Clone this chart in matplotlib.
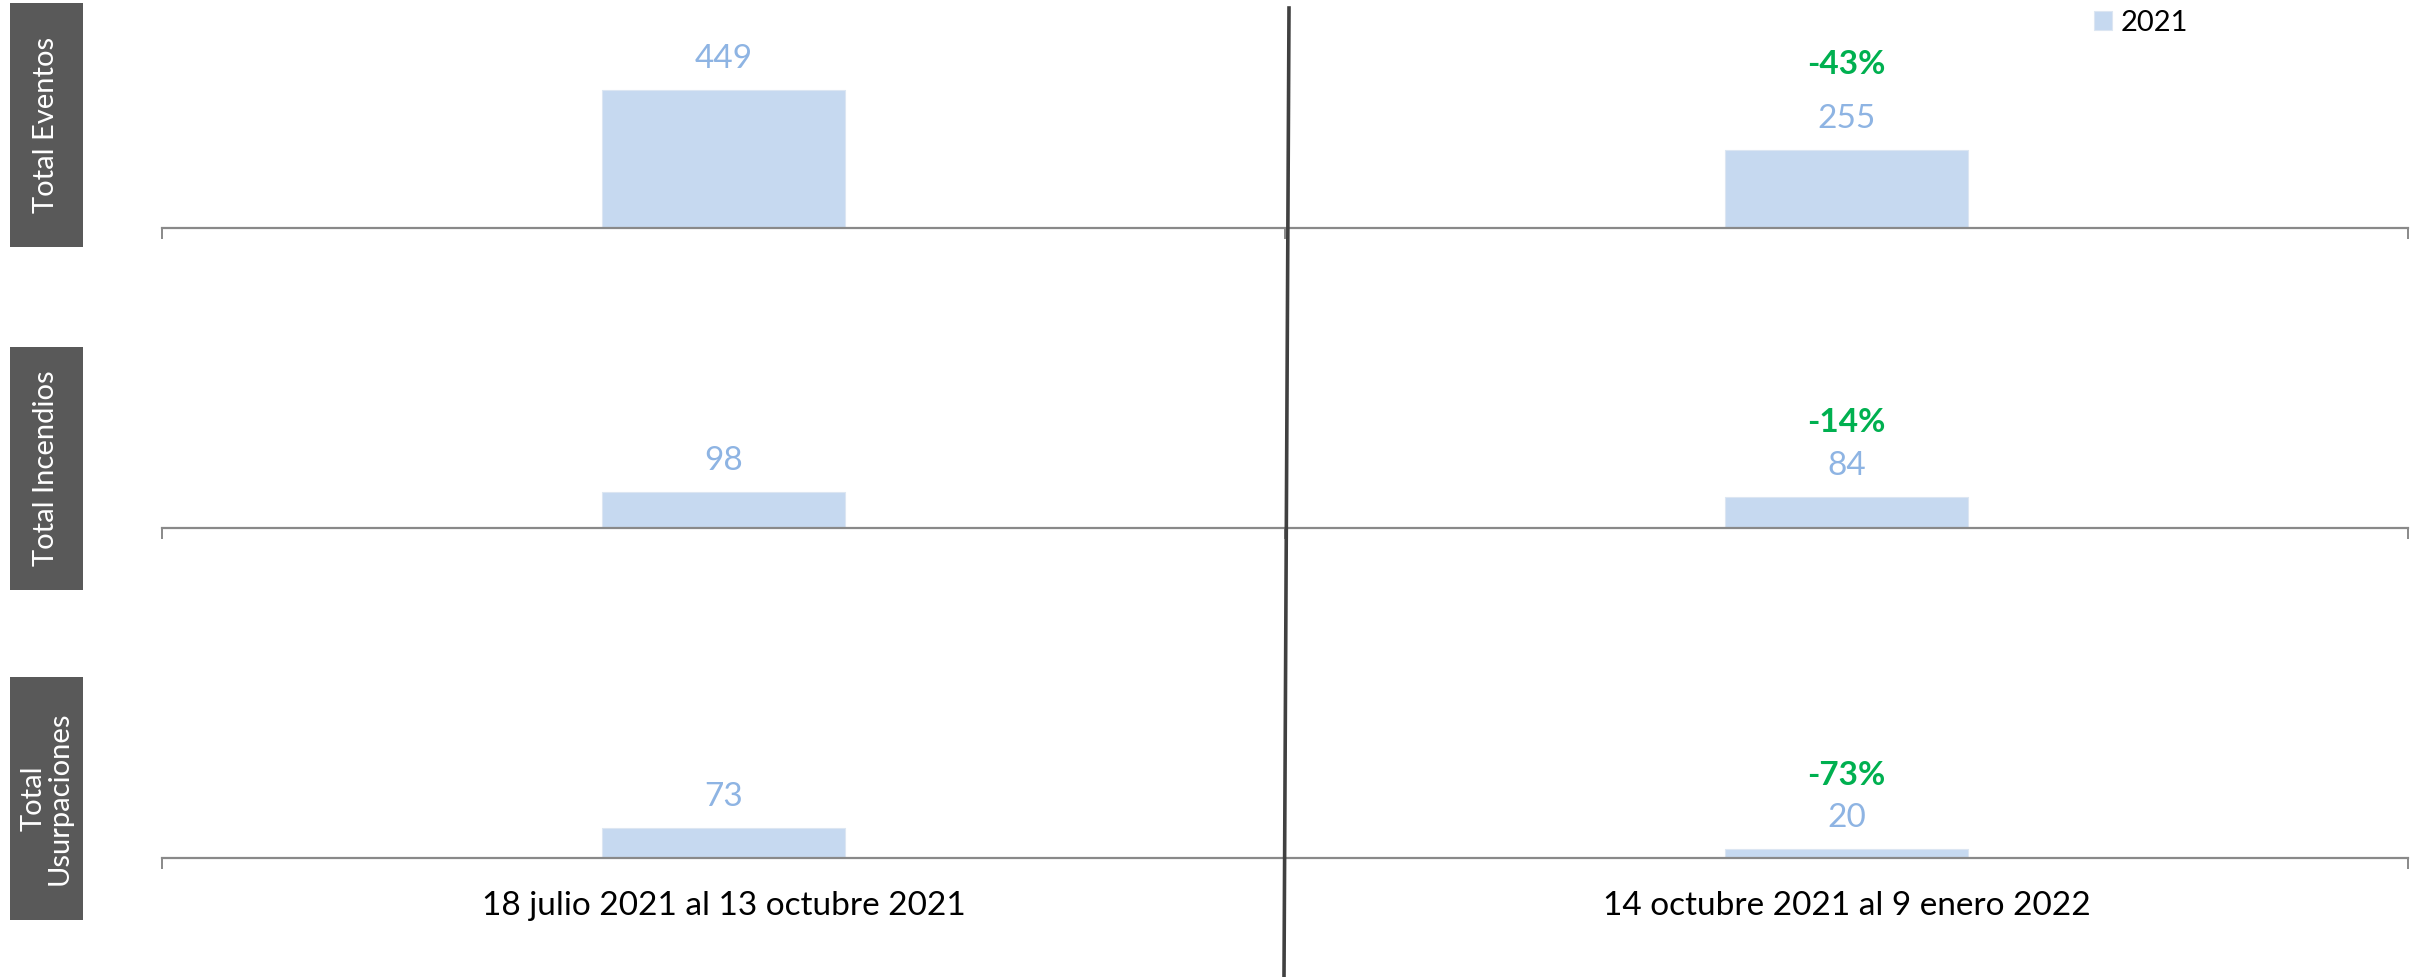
import matplotlib
matplotlib.use("Agg")
import matplotlib.pyplot as plt
from matplotlib.patches import Rectangle
from matplotlib.lines import Line2D

plt.rcParams['font.family'] = ['Lato', 'DejaVu Sans']

# datos
periodos = ["18 julio 2021 al 13 octubre 2021", "14 octubre 2021 al 9 enero 2022"]
titulos = ["Total Eventos", "Total Incendios", "Total\nUsurpaciones"]
eventos = [449, 255]
incendios = [98, 84]
usurpaciones = [73, 20]
series = [eventos, incendios, usurpaciones]
anio = "2021"

color_barra = "#C6D9F0"
color_valor = "#8EB4E3"
color_verde = "#00B050"
color_eje = "#898989"

W, H = 2420, 977
fig = plt.figure(figsize=(W / 100, H / 100), dpi=100)

# posicion de cada panel en pixeles: linea base, escala px/unidad, tope del eje y
base_px = [228, 528, 857.5]
escala = [0.307, 0.372, 0.405]
ymax = [600, 300, 250]
caja_px = [(3, 247), (347, 590), (677, 920)]
desfase_pct = [54, 43, 43]

x0, x1 = 162, 2408
fs = 24

ejes = []
for i, vals in enumerate(series):
    alto = ymax[i] * escala[i]
    ax = fig.add_axes([x0 / W, (H - base_px[i]) / H, (x1 - x0) / W, alto / H])
    ejes.append(ax)
    barras = ax.bar([0, 1], vals, width=0.217, color=color_barra,
                    edgecolor="#DCE6F2", linewidth=0.8, label=anio, zorder=2)
    ax.set_xlim(-0.5, 1.5)
    ax.set_ylim(0, ymax[i])
    for s in ["top", "left", "right"]:
        ax.spines[s].set_visible(False)
    ax.spines["bottom"].set_color(color_eje)
    ax.spines["bottom"].set_linewidth(1.6)
    ax.set_yticks([])
    ax.set_xticks([-0.5, 0.5, 1.5])
    ax.set_xticklabels([])
    ax.tick_params(axis="x", which="major", length=8, width=1.4, color=color_eje, direction="out")
    ax.patch.set_alpha(0)

    for j, v in enumerate(vals):
        ax.annotate(str(v), (j, v), xytext=(0, 31 * 0.72), textcoords="offset points",
                    ha="center", va="center", fontsize=fs, color=color_valor)
    cambio = (vals[1] - vals[0]) / vals[0] * 100
    ax.annotate(f"{cambio:.0f}%", (1, vals[1]),
                xytext=(0, (31 + desfase_pct[i]) * 0.72), textcoords="offset points",
                ha="center", va="center", fontsize=fs, fontweight="bold", color=color_verde)

    # caja gris con el titulo
    y_top, y_bot = caja_px[i]
    fig.add_artist(Rectangle((10 / W, (H - y_bot) / H), 73 / W, (y_bot - y_top) / H,
                             transform=fig.transFigure, facecolor="#595959", edgecolor="none"))
    fig.text(46.5 / W, (H - (y_top + y_bot) / 2) / H, titulos[i], rotation=90,
             ha="center", va="center", multialignment="center",
             color="white", fontsize=21, linespacing=1.0)

    if i == 0:
        fig.legend(handles=[barras], labels=[anio], loc="center left",
                   bbox_to_anchor=(2094 / W, 1 - 23 / H), frameon=False,
                   handlelength=0.6, handleheight=0.6, handletextpad=0.3,
                   borderpad=0, borderaxespad=0, fontsize=21)

ax = ejes[-1]
ax.set_xticks([0, 1], minor=True)
ax.set_xticklabels(periodos, minor=True, fontsize=fs, color="black")
ax.tick_params(axis="x", which="minor", length=0, pad=24)

# linea divisoria vertical
fig.add_artist(Line2D([1289 / W, 1284 / W], [1 - 8 / H, 0], transform=fig.transFigure,
                      color="#404040", linewidth=2.6))

fig.savefig("out.png", dpi=100)
